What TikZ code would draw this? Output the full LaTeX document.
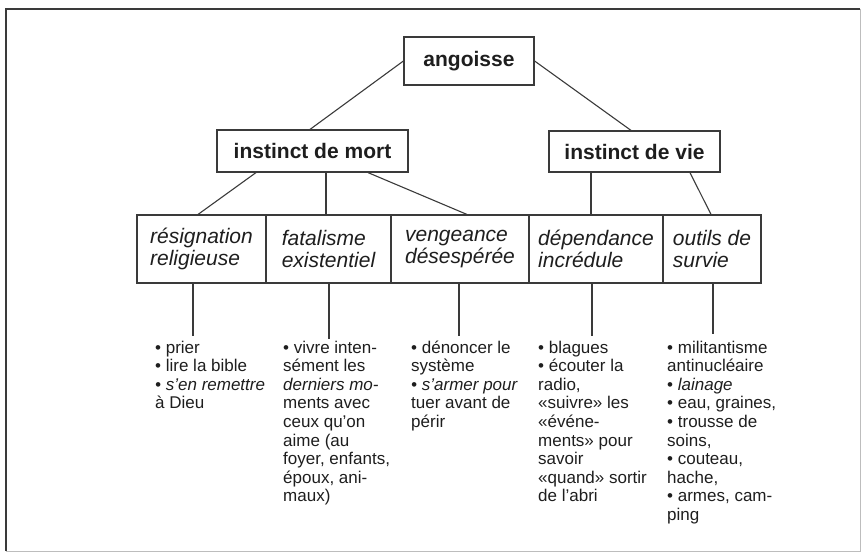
\documentclass[tikz,border=0pt]{standalone}
\usepackage{fontspec}
\setmainfont{Liberation Sans}
\definecolor{ink}{HTML}{1E1E1E}
\definecolor{lineclr}{HTML}{3A3A3A}
\definecolor{framegray}{HTML}{BDBDBD}
\begin{document}
\begin{tikzpicture}[x=1pt,y=-1pt,
  topbox/.style={draw=lineclr, line width=1.2pt, fill=white, text=ink, inner sep=0pt,
    font=\fontsize{21}{22}\selectfont\bfseries},
  catbox/.style={draw=lineclr, line width=1.1pt, text=ink, inner sep=0pt, align=left,
    minimum height=68pt, font=\fontsize{21}{22}\selectfont\itshape},
  conn/.style={draw=lineclr, line width=1.1pt},
  listtext/.style={anchor=base west, inner sep=0pt, text=ink,
    font=\fontsize{17}{18.6}\selectfont}
]
\useasboundingbox (0,0) rectangle (862,553);
% frame
\draw[framegray, line width=1pt] (6,551) -- (860,551) -- (860,9);
\draw[lineclr, line width=2.6pt] (6,551) -- (6,9) -- (860,9);

% top nodes
\node[topbox, minimum width=130pt, minimum height=48pt] (ang) at (469,61) {angoisse};
\node[topbox, minimum width=191pt, minimum height=42pt] (mort) at (312.5,151) {instinct de mort};
\node[topbox, minimum width=171pt, minimum height=41pt] (vie) at (634.5,151.5) {instinct de vie};

% category boxes
\node[catbox, minimum width=129pt] (res) at (201.5,249) {résignation\\religieuse};
\node[catbox, minimum width=125pt] (fat) at (328.5,249) {fatalisme\\existentiel};
\node[catbox, minimum width=138pt] (ven) at (460,249) {vengeance\\désespérée};
\node[catbox, minimum width=134pt] (dep) at (596,249) {dépendance\\incrédule};
\node[catbox, minimum width=98pt] (out) at (712,249) {outils de\\survie};

% connectors
\draw[conn] (ang.west) -- ([xshift=-2.5pt]mort.north);
\draw[conn] (ang.east) -- ([xshift=-3.5pt]vie.north);
\draw[conn] ([xshift=-56.5pt]mort.south) -- ([xshift=-3.5pt]res.north);
\draw[conn] ([xshift=-2.5pt]fat.north) -- ([xshift=-2.5pt]fat.north |- mort.south);
\draw[conn] ([xshift=55.5pt]mort.south) -- ([xshift=7pt]ven.north);
\draw[conn] ([xshift=-5pt]dep.north) -- ([xshift=-5pt]dep.north |- vie.south);
\draw[conn] ([xshift=55.5pt]vie.south) -- ([xshift=-1pt]out.north);

% lists
\node[listtext] (lres) at (155,353) {\parbox[t]{130pt}{\raggedright
• prier\\• lire la bible\\\textit{• s’en remettre}\\à Dieu}};
\node[listtext] (lfat) at (283,353) {\parbox[t]{130pt}{\raggedright
• vivre inten-\\sément les\\\textit{derniers mo-}\\ments avec\\ceux qu’on\\aime (au\\foyer, enfants,\\époux, ani-\\maux)}};
\node[listtext] (lven) at (411,353) {\parbox[t]{130pt}{\raggedright
• dénoncer le\\système\\\textit{• s’armer pour}\\tuer avant de\\périr}};
\node[listtext] (ldep) at (538,353) {\parbox[t]{130pt}{\raggedright
• blagues\\• écouter la\\radio,\\«suivre» les\\«événe-\\ments» pour\\savoir\\«quand» sortir\\de l’abri}};
\node[listtext] (lout) at (667,353) {\parbox[t]{130pt}{\raggedright
• militantisme\\antinucléaire\\• \textit{lainage}\\• eau, graines,\\• trousse de\\soins,\\• couteau,\\hache,\\• armes, cam-\\ping}};

% stems to lists
\draw[conn] ([xshift=-8.5pt]res.south) -- ([xshift=-8.5pt,yshift=4pt]res.south |- lres.north);
\draw[conn] ([xshift=0.5pt]fat.south) -- ([xshift=0.5pt,yshift=1pt]fat.south |- lfat.north);
\draw[conn] ([xshift=-1pt]ven.south) -- ([xshift=-1pt,yshift=4pt]ven.south |- lven.north);
\draw[conn] ([xshift=-4pt]dep.south) -- ([xshift=-4pt,yshift=4pt]dep.south |- ldep.north);
\draw[conn] ([xshift=1pt]out.south) -- ([xshift=1pt,yshift=6pt]out.south |- lout.north);
\end{tikzpicture}
\end{document}
